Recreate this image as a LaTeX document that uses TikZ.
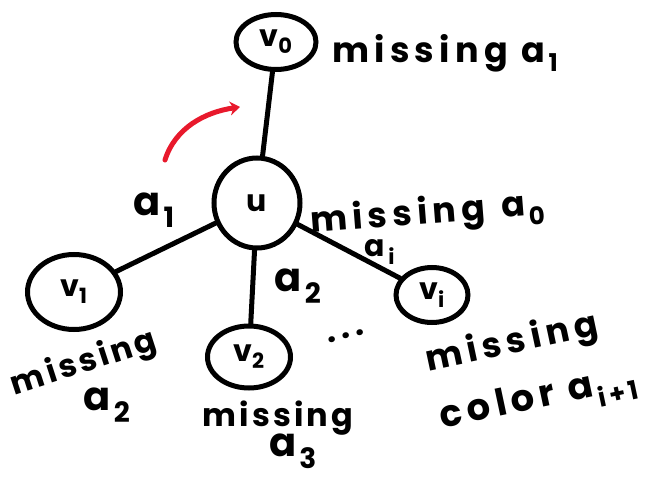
\documentclass[tikz,border=0pt]{standalone}
\usepackage{fontspec}
\setmainfont{Poppins}
\usetikzlibrary{arrows.meta,shapes.geometric}
\definecolor{penred}{HTML}{E8192C}
% subscript set a little apart from its letter
\newcommand{\lsub}[1]{\hspace{3pt}\textsubscript{#1}}
\begin{document}
\begin{tikzpicture}[x=1pt,y=-1pt,
  vert/.style={draw, ellipse, line width=5pt, inner sep=0pt},
  edge/.style={line width=5pt, line cap=round},
  lbl/.style={font=\fontsize{32}{34}\selectfont\bfseries\addfontfeature{LetterSpace=10}, inner sep=0pt},
  wide/.style={font=\fontsize{35}{37}\selectfont\bfseries\addfontfeature{LetterSpace=15}, inner sep=0pt},
  alabel/.style={font=\fontsize{40}{42}\selectfont\bfseries\addfontfeature{LetterSpace=8}, inner sep=0pt},
  small/.style={font=\fontsize{30}{32}\selectfont\bfseries\addfontfeature{LetterSpace=6}, inner sep=0pt},
  vname/.style={font=\fontsize{30}{32}\selectfont\bfseries}]
\useasboundingbox (0,0) rectangle (665,479);

% vertices
\node[vert, minimum width=80pt, minimum height=55pt, vname] (v0) at (276,42) {v\textsubscript{0}};
\node[vert, minimum width=86pt, minimum height=90pt, vname] (u) at (257,203) {u};
\node[vert, minimum width=93pt, minimum height=75pt, vname] (v1) at (74,292) {v\textsubscript{1}};
\node[vert, minimum width=83pt, minimum height=62pt, vname] (v2) at (249,357) {v\textsubscript{2}};
\node[vert, minimum width=72pt, minimum height=55pt, vname] (vi) at (432,295) {v\textsubscript{i}};

% edges from the centre vertex
\draw[edge] (v0) -- (u);
\draw[edge] (u) -- (v1);
\draw[edge] (u) -- (v2);
\draw[edge] (u) -- (vi);

% red arrow
\coordinate (rs) at (165,160);
\coordinate (re) at (240,107);
\draw[penred, line width=5pt, line cap=round, -{Stealth[length=10pt,width=14pt]}]
  (rs) .. controls (175,128) and (205,112) .. (re);

% edge labels
\node[alabel] (la1) at (154,210) {a\lsub{1}};
\node[small] (lai) at (380,252) {a\lsub{i}};
\node[alabel] (la2) at (298,286) {a\lsub{2}};

% dots
\node[lbl, rotate=15] (dots) at (346,336) {.\,.\,.};

% missing labels
\node[wide, anchor=base west] (m0) at (332,62) {missing\hspace{14pt}a\lsub{1}};
\node[wide, anchor=base west, rotate=4.5] (mu) at (311,233) {missing\hspace{16pt}a\lsub{0}};
\node[lbl, rotate=18] (m1) at (84,364) {missing};
\node[alabel] (m1a) at (107,405) {a\lsub{2}};
\node[lbl] (m2) at (278,418) {missing};
\node[alabel] (m2a) at (293,451) {a\lsub{3}};
\node[wide, rotate=12] (mi) at (512,344) {missing};
\node[font=\fontsize{37}{39}\selectfont\bfseries\addfontfeature{LetterSpace=14}, inner sep=0pt, rotate=12] (mic) at (539,400) {color a\lsub{i+1}};
\end{tikzpicture}
\end{document}
